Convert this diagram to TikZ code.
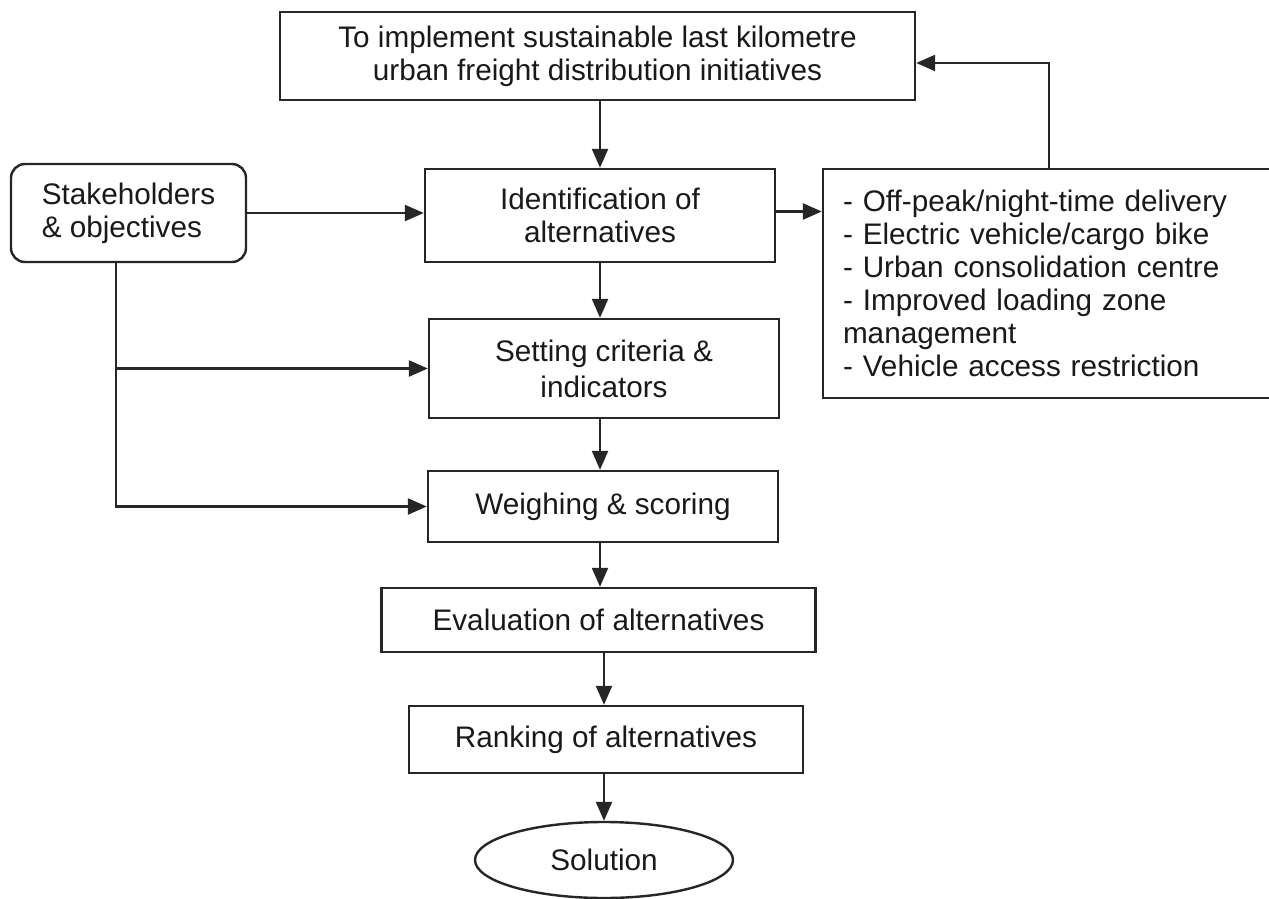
\documentclass[tikz,border=0pt]{standalone}
\usepackage{fontspec}
\setmainfont{Liberation Sans}
\usetikzlibrary{arrows.meta,shapes.geometric}
\begin{document}
\begin{tikzpicture}[x=1pt,y=-1pt,
  every node/.style={font=\fontsize{29.7}{33}\selectfont, text=black!90},
  box/.style={draw=black!85, line width=2.4pt, inner sep=0pt, align=center},
  conn/.style={draw=black!85, line width=2.4pt, -{Triangle[length=19pt,width=16pt]}},
  plainline/.style={draw=black!85, line width=2.4pt}]
\useasboundingbox (0,0) rectangle (1269,899);
\fill[white] (0,0) rectangle (1269,899);

\node[box, minimum width=635pt, minimum height=88pt] (top) at (597.5,56)
  {To implement sustainable last kilometre\\urban freight distribution initiatives};
\node[box, rounded corners=14pt, align=left, minimum width=235pt, minimum height=98pt] (stake) at (128.5,213)
  {Stakeholders\\\& objectives};
\node[box, minimum width=350pt, minimum height=93pt] (ident) at (600,215.5)
  {Identification of\\alternatives};
\node[box, align=left, text width=412pt, inner xsep=20pt, inner ysep=0pt, minimum height=229pt] (list) at (1049,283.5)
  {- Off-peak/night-time delivery\\- Electric vehicle/cargo bike\\- Urban consolidation centre\\- Improved loading zone\\management\\- Vehicle access restriction};
\node[box, minimum width=350pt, minimum height=99pt, font=\fontsize{29.7}{36}\selectfont] (setting) at (604,368.5)
  {Setting criteria \&\\indicators};
\node[box, minimum width=350pt, minimum height=71pt] (weigh) at (603,506.5)
  {Weighing \& scoring};
\node[box, minimum width=434pt, minimum height=64pt] (eval) at (598.5,620)
  {Evaluation of alternatives};
\node[box, minimum width=394pt, minimum height=67pt] (rank) at (606,739.5)
  {Ranking of alternatives};
\node[box, ellipse, minimum width=258pt, minimum height=76pt] (sol) at (604,860)
  {Solution};

\draw[conn] (top.south -| ident.north) -- (ident.north);
\draw[conn] (stake.east) -- (stake.east -| ident.west);
\draw[conn] ([yshift=4pt]ident.east) -- ([yshift=4pt]ident.east -| list.west);
\draw[conn] (list.north) |- ([yshift=-7pt]top.east);
\draw[conn] (ident.south) -- (ident.south |- setting.north);
\draw[conn] (setting.south -| ident.south) -- (weigh.north -| ident.south);
\draw[conn] (weigh.south -| ident.south) -- (eval.north -| ident.south);
\draw[conn] (eval.south -| sol.north) -- (rank.north -| sol.north);
\draw[conn] (rank.south -| sol.north) -- (sol.north);
\draw[conn] ([xshift=-12.5pt]stake.south) |- (setting.west);
\draw[conn] ([xshift=-12.5pt]stake.south) |- (weigh.west);
\end{tikzpicture}
\end{document}
